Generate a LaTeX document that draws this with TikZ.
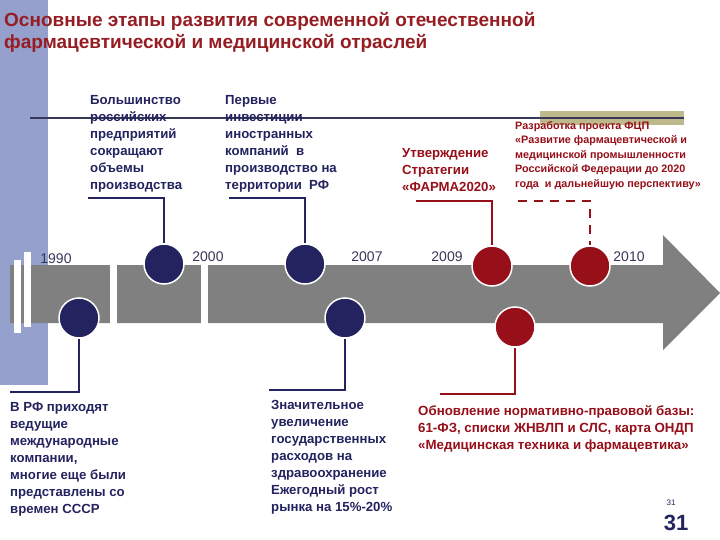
\documentclass[tikz,border=0pt]{standalone}
\usepackage{fontspec}
\usetikzlibrary{shapes.geometric}
\setmainfont{Liberation Sans}
\definecolor{navy}{RGB}{35,35,95}
\definecolor{dred}{RGB}{150,15,25}
\definecolor{ttl}{RGB}{150,30,35}
\definecolor{band}{RGB}{150,160,205}
\definecolor{arr}{RGB}{128,128,128}
\definecolor{olive}{RGB}{190,185,140}
\definecolor{yr}{RGB}{55,55,90}
\begin{document}
\begin{tikzpicture}[x=1pt,y=-1pt,
  dot/.style={ellipse,minimum width=40pt,minimum height=40pt,draw=white,line width=1.5pt,inner sep=0},
  ndot/.style={dot,fill=navy},
  rdot/.style={dot,fill=dred},
  nline/.style={navy,line width=2.5pt},
  rline/.style={dred,line width=2.5pt},
  ntxt/.style={anchor=north west,inner sep=0,align=left,text=navy,font=\bfseries\fontsize{13.2}{17}\selectfont},
  rtxt/.style={ntxt,text=dred},
  year/.style={anchor=base,inner sep=0,text=yr,font=\fontsize{14}{15}\selectfont}]
\useasboundingbox (0,0) rectangle (720,540);
\fill[white] (0,0) rectangle (720,540);
\fill[band] (0,0) rectangle (48,385);
\node[anchor=north west,inner sep=0,align=left,text=ttl,font=\bfseries\fontsize{19}{22}\selectfont] (title) at (4,12)
 {Основные этапы развития современной отечественной\\фармацевтической и медицинской отраслей};
\fill[olive] (540,111) rectangle (684,125);
\draw[yr,line width=1.5pt] (30,118) -- (684,118);
% arrow
\fill[arr] (10,265) -- (663,265) -- (663,235) -- (720,293) -- (663,350) -- (663,323) -- (10,323) -- cycle;
\fill[white] (110,262) rectangle (117,326);
\fill[white] (201,262) rectangle (208,326);
\fill[white] (14,260) rectangle (21,333);
\fill[white] (24,252) rectangle (31,327);
% years
\node[year] (y1) at (56,263) {1990};
\node[year] (y2) at (208,261) {2000};
\node[year] (y3) at (367,261) {2007};
\node[year] (y4) at (447,261) {2009};
\node[year] (y5) at (629,261) {2010};
% dots
\node[ndot] (c1) at (164,264) {};
\node[ndot] (c2) at (305,264) {};
\node[rdot] (c3) at (492,266) {};
\node[rdot] (c4) at (590,266) {};
\node[ndot] (b1) at (79,318) {};
\node[ndot] (b2) at (345,318) {};
\node[rdot] (b3) at (515,327) {};
% connectors
\coordinate (k1) at (88,198); \coordinate (k2) at (229,198);
\coordinate (k3) at (416,201); \coordinate (k4) at (518,201);
\coordinate (m1) at (10,392); \coordinate (m2) at (269,390); \coordinate (m3) at (440,394);
\draw[nline] (k1) -- (k1 -| c1) -- (c1.north);
\draw[nline] (k2) -- (k2 -| c2) -- (c2.north);
\draw[rline] (k3) -- (k3 -| c3) -- (c3.north);
\draw[rline,dash pattern=on 9pt off 7pt] (k4) -- (k4 -| c4) -- (c4.north);
\draw[nline] (b1.south) -- (b1 |- m1) -- (m1);
\draw[nline] (b2.south) -- (b2 |- m2) -- (m2);
\draw[rline] (b3.south) -- (b3 |- m3) -- (m3);
% texts
\node[ntxt] (t1) at (90,95) {Большинство\\российских\\предприятий\\сокращают\\объемы\\производства};
\node[ntxt] (t2) at (225,95) {Первые\\инвестиции\\иностранных\\компаний \ в\\производство на\\территории \ РФ};
\node[rtxt] (t3) at (402,148) {Утверждение\\Стратегии\\«ФАРМА2020»};
\node[rtxt,font=\bfseries\fontsize{10.8}{14.5}\selectfont] (t4) at (515,121) {Разработка проекта ФЦП\\«Развитие фармацевтической и\\медицинской промышленности\\Российской Федерации до 2020\\года \ и дальнейшую перспективу»};
\node[ntxt] (u1) at (10,402) {В РФ приходят\\ведущие\\международные\\компании,\\многие еще были\\представлены со\\времен СССР};
\node[ntxt] (u2) at (271,400) {Значительное\\увеличение\\государственных\\расходов на\\здравоохранение\\Ежегодный рост\\рынка на 15\%-20\%};
\node[rtxt,font=\bfseries\fontsize{13.3}{17}\selectfont] (u3) at (418,405) {Обновление нормативно-правовой базы:\\61-ФЗ, списки ЖНВЛП и СЛС, карта ОНДП\\«Медицинская техника и фармацевтика»};
\node[anchor=base,inner sep=0,text=navy,font=\fontsize{8}{9}\selectfont] (p1) at (671,505) {31};
\node[anchor=base,inner sep=0,text=navy,font=\bfseries\fontsize{22}{24}\selectfont] (p2) at (676,530) {31};
\end{tikzpicture}
\end{document}
